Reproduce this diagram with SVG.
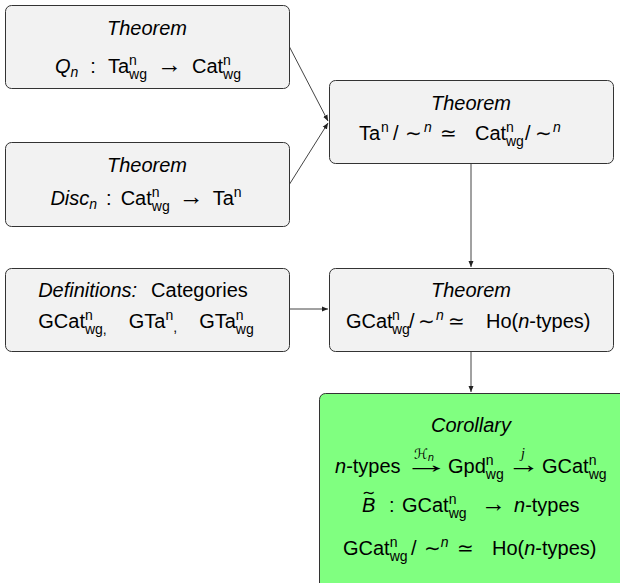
<svg xmlns="http://www.w3.org/2000/svg" width="620" height="583" viewBox="0 0 620 583">
<style>
.box{fill:#f2f2f2;stroke:#333;stroke-width:1}
.green{fill:#80ff80;stroke:#333;stroke-width:1}
.t{font-family:"Liberation Sans",Arial,sans-serif;font-size:20px;fill:#000;text-anchor:middle}
.st{text-anchor:start}
.i{font-style:italic}
.s{font-size:14px}
.m{font-family:"DejaVu Sans",sans-serif;font-style:normal}
.a{font-size:25px}
.c{fill:none;stroke:#444;stroke-width:1}
</style>
<defs>
<marker id="ah" markerUnits="userSpaceOnUse" markerWidth="7" markerHeight="6" refX="6" refY="3" orient="auto">
<path d="M0,0.5 L6,3 L0,5.5 z" fill="#222"/>
</marker>
</defs>
<g id="connectors">
<line class="c" x1="289" y1="46" x2="328" y2="121" marker-end="url(#ah)"/>
<line class="c" x1="289" y1="185" x2="328" y2="123" marker-end="url(#ah)"/>
<line class="c" x1="471" y1="163" x2="471" y2="267" marker-end="url(#ah)"/>
<line class="c" x1="289" y1="309" x2="328" y2="309" marker-end="url(#ah)"/>
<line class="c" x1="471" y1="351" x2="471" y2="392" marker-end="url(#ah)"/>
</g>
<g id="thm-qn">
<rect class="box" x="5.5" y="5.5" width="284" height="83" rx="6"/>
<text class="t i" x="147" y="35">Theorem</text>
<text class="t" x="148" y="73"><tspan class="i">Q</tspan><tspan class="i s" dy="4">n</tspan><tspan dy="-4" dx="12">:</tspan><tspan dx="12">Ta</tspan><tspan class="s" dy="-8">n</tspan><tspan class="s" dx="-7.8" dy="14">wg</tspan><tspan class="a" dy="-6" dx="10">→</tspan><tspan dx="10">Cat</tspan><tspan class="s" dy="-8">n</tspan><tspan class="s" dx="-7.8" dy="14">wg</tspan></text>
</g>
<g id="thm-disc">
<rect class="box" x="5.5" y="142.5" width="284" height="84" rx="6"/>
<text class="t i" x="147" y="172">Theorem</text>
<text class="t" x="146" y="205"><tspan class="i">Disc</tspan><tspan class="i s" dy="4">n</tspan><tspan dy="-4" dx="9">:</tspan><tspan dx="9">Cat</tspan><tspan class="s" dy="-8">n</tspan><tspan class="s" dx="-7.8" dy="14">wg</tspan><tspan class="a" dy="-6" dx="9">→</tspan><tspan dx="9">Ta</tspan><tspan class="s" dy="-8">n</tspan></text>
</g>
<g id="thm-ta">
<rect class="box" x="329.5" y="80.5" width="284" height="83" rx="6"/>
<text class="t i" x="471" y="110">Theorem</text>
<text class="t st" x="359" y="140"><tspan>Ta</tspan><tspan class="s" x="381" dy="-8">n</tspan><tspan x="393" dy="8">/</tspan><tspan class="m" x="405">∼</tspan><tspan class="s i" x="424" dy="-8">n</tspan><tspan class="m" x="440" dy="8">≃</tspan><tspan x="475">Cat</tspan><tspan class="s" x="506" dy="-8">n</tspan><tspan class="s" x="506" dy="14">wg</tspan><tspan x="525" dy="-6">/</tspan><tspan class="m" x="535">∼</tspan><tspan class="s i" x="553" dy="-8">n</tspan></text>
</g>
<g id="defs-cat">
<rect class="box" x="5.5" y="268.5" width="284" height="83" rx="6"/>
<text class="t" x="143" y="297"><tspan class="i">Definitions:</tspan><tspan dx="14">Categories</tspan></text>
<text class="t" x="146" y="328"><tspan>GCat</tspan><tspan class="s" dy="-8">n</tspan><tspan class="s" dx="-7.8" dy="14">wg</tspan><tspan class="s">,</tspan><tspan dy="-6" dx="22">GTa</tspan><tspan class="s" dy="-8">n</tspan><tspan class="s" dy="12">,</tspan><tspan dx="22" dy="-4">GTa</tspan><tspan class="s" dy="-8">n</tspan><tspan class="s" dx="-7.8" dy="14">wg</tspan></text>
</g>
<g id="thm-gcat">
<rect class="box" x="329.5" y="268.5" width="284" height="83" rx="6"/>
<text class="t i" x="471" y="297">Theorem</text>
<text class="t st" x="346" y="328"><tspan>GCat</tspan><tspan class="s" x="392" dy="-8">n</tspan><tspan class="s" x="392" dy="14">wg</tspan><tspan x="409" dy="-6">/</tspan><tspan class="m" x="418">∼</tspan><tspan class="s i" x="436" dy="-8">n</tspan><tspan class="m" x="448" dy="8">≃</tspan><tspan x="486">Ho(</tspan><tspan class="i">n</tspan><tspan>-types)</tspan></text>
</g>
<g id="corollary">
<rect class="green" x="319.5" y="393.5" width="310" height="200" rx="6"/>
<text class="t i" x="471" y="432">Corollary</text>
<text class="t st" x="335" y="473"><tspan class="i">n</tspan><tspan>-types</tspan><tspan x="448">Gpd</tspan><tspan class="s" dy="-8">n</tspan><tspan class="s" dx="-7.8" dy="14">wg</tspan><tspan x="542" dy="-6">GCat</tspan><tspan class="s" dy="-8">n</tspan><tspan class="s" dx="-7.8" dy="14">wg</tspan></text>
<text class="t st a" transform="translate(403,473) scale(1.87,1)">→</text>
<text class="t st a" transform="translate(507,473) scale(1.33,1)">→</text>
<text class="t st m" x="414" y="459" style="font-size:14px;font-style:italic">ℋ<tspan dy="2" style="font-size:10px">n</tspan></text>
<text class="t st i" x="521" y="458" style="font-size:14px;font-family:'Liberation Serif',serif">j</text>
<text class="t st" x="362" y="512"><tspan class="i">B</tspan><tspan x="389">:</tspan><tspan x="402">GCat</tspan><tspan class="s" dy="-8">n</tspan><tspan class="s" dx="-7.8" dy="14">wg</tspan><tspan class="a" x="481" dy="-6">→</tspan><tspan class="i" x="514">n</tspan><tspan>-types</tspan></text>
<text class="t st m" x="362" y="498" style="font-size:16px">∼</text>
<text class="t st" x="343" y="555"><tspan>GCat</tspan><tspan class="s" dy="-8">n</tspan><tspan class="s" dx="-7.8" dy="14">wg</tspan><tspan dy="-6" x="411">/</tspan><tspan class="m" x="424">∼</tspan><tspan class="s i" dy="-8">n</tspan><tspan class="m" dy="8" x="457">≃</tspan><tspan x="492">Ho(</tspan><tspan class="i">n</tspan><tspan>-types)</tspan></text>
</g>
</svg>
